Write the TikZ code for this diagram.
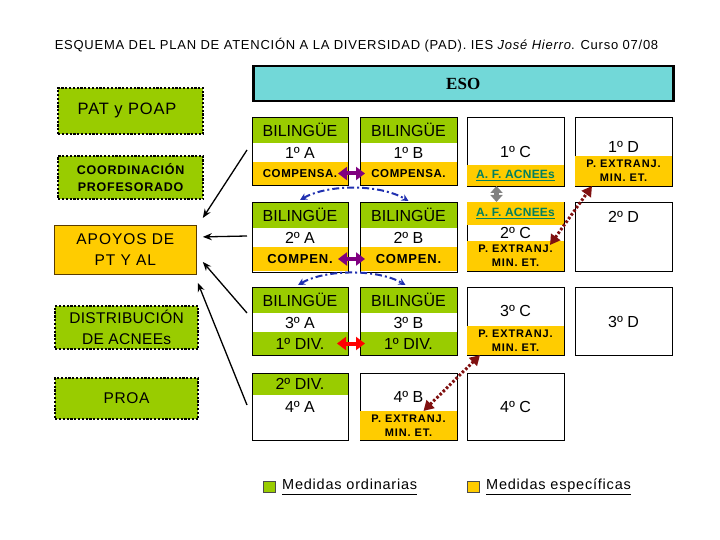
\documentclass[tikz,border=0pt]{standalone}
\usepackage{fontspec}
\setmainfont{Liberation Sans}
\newfontfamily\serifb{Liberation Serif}
\usetikzlibrary{arrows.meta,calc}
\definecolor{ogreen}{RGB}{153,204,0}
\definecolor{oorange}{RGB}{255,204,0}
\definecolor{esocyan}{RGB}{114,216,216}
\definecolor{afgreen}{RGB}{0,128,96}
\definecolor{arcblue}{RGB}{32,48,176}
\definecolor{dred}{RGB}{128,16,16}
\definecolor{purp}{RGB}{128,0,128}
\definecolor{apbord}{RGB}{90,60,0}
\newcommand\fs[2]{\fontsize{#1}{#2}\selectfont}
\newcommand\lsp[1]{\addfontfeatures{LetterSpace=#1}}
\begin{document}
\begin{tikzpicture}[x=1pt,y=-1pt,
  band/.style={inner sep=0pt, outer sep=0pt, anchor=north west, text=black, align=center},
  cellbox/.style={draw=black, line width=0.8pt, inner sep=0pt, outer sep=0pt, anchor=north west},
  sidebox/.style={draw=black, line width=2.2pt, dash pattern=on 2.2pt off 1.6pt, fill=ogreen, anchor=north west, inner sep=0pt, align=center},
  big/.style={font=\fs{16}{19}},
  comp/.style={font=\fs{11.5}{13}\bfseries\lsp{5}},
  compen/.style={font=\fs{13}{15}\bfseries\lsp{6}},
  pext/.style={font=\fs{11}{14}\bfseries\lsp{8}},
  afs/.style={font=\fs{12}{14}\bfseries\lsp{2}},
  side/.style={font=\fs{15.5}{21}\lsp{4}},
  dbl/.style={line width=4pt, {Triangle[length=9pt,width=13pt]}-{Triangle[length=9pt,width=13pt]}},
  arcs/.style={arcblue, line width=2pt, dash pattern=on 7pt off 3pt on 2pt off 3pt, {Stealth[length=7pt,width=7pt]}-{Stealth[length=7pt,width=7pt]}},
  dots/.style={dred, line width=3pt, dash pattern=on 2.5pt off 2pt, {Triangle[length=10pt,width=11pt]}-{Triangle[length=10pt,width=11pt]}},
  ptr/.style={black, line width=1.3pt, -{Stealth[length=9pt,width=7pt]}}
]
\useasboundingbox (0,0) rectangle (720,540);
\fill[white] (0,0) rectangle (720,540);

% title
\node (title) at (356.5,45) {\fs{13}{15}\lsp{5.9}ESQUEMA DEL PLAN DE ATENCIÓN A LA DIVERSIDAD (PAD). IES \textit{José Hierro}. Curso 07/08};

% ESO
\node[draw=black, line width=2.5pt, fill=esocyan, anchor=north west, minimum width=420pt, minimum height=35pt, inner sep=0pt] (eso) at (252,65) {};
\node (esot) at (eso.center) {\serifb\bfseries\fs{17}{19}ESO};

% left boxes
\node[sidebox, minimum width=145pt, minimum height=46pt] (pat) at (57,87) {};
\node[font=\fs{16.5}{19}\lsp{5}] (patt) at (127,110) {PAT y POAP};
\node[sidebox, minimum width=145pt, minimum height=43pt, font=\fs{12.5}{17}\bfseries\lsp{6}] (coord) at (57,155) {COORDINACIÓN\\PROFESORADO};
\node[draw=apbord, line width=0.8pt, fill=oorange, anchor=north west, inner sep=0pt, minimum width=142pt, minimum height=49pt, align=center, side, font=\fs{15.5}{21}\lsp{6}] (apoyos) at (54,225) {APOYOS DE\\PT Y AL};
\node[sidebox, minimum width=143pt, minimum height=43pt, side, font=\fs{15.5}{21}\lsp{2}] (distr) at (54,305) {DISTRIBUCIÓN\\DE ACNEEs};
\node[sidebox, minimum width=143pt, minimum height=41pt, side] (proa) at (54,377) {PROA};

% ---------- Row 1 ----------
\node[band, fill=ogreen, minimum width=96pt, minimum height=26pt, big] (A1g) at (252,117) {BILINGÜE};
\node[band, minimum width=96pt, minimum height=19pt, big] (A1w) at (252,143) {1º A};
\node[band, fill=oorange, minimum width=96pt, minimum height=23pt, comp] (A1o) at (252,162) {COMPENSA.};
\node[cellbox, minimum width=96pt, minimum height=68pt] (A1) at (252,117) {};

\node[band, fill=ogreen, minimum width=97pt, minimum height=26pt, big] (B1g) at (360,117) {BILINGÜE};
\node[band, minimum width=97pt, minimum height=19pt, big] (B1w) at (360,143) {1º B};
\node[band, fill=oorange, minimum width=97pt, minimum height=23pt, comp] (B1o) at (360,162) {COMPENSA.};
\node[cellbox, minimum width=97pt, minimum height=68pt] (B1) at (360,117) {};

\node[cellbox, minimum width=97pt, minimum height=69pt] (C1) at (467,117) {};
\node[big] (C1t) at (515.5,152) {1º C};
\node[band, fill=oorange, minimum width=97pt, minimum height=21pt, afs] (C1o) at (467,165) {\textcolor{afgreen}{\underline{A. F. ACNEEs}}};

\node[cellbox, minimum width=97pt, minimum height=69pt] (D1) at (575,117) {};
\node[big] (D1t) at (623.5,147) {1º D};
\node[band, fill=oorange, minimum width=97pt, minimum height=30pt, pext] (D1o) at (575,156) {P. EXTRANJ.\\MIN. ET.};

% ---------- Row 2 ----------
\node[band, fill=ogreen, minimum width=96pt, minimum height=26pt, big] (A2g) at (252,202) {BILINGÜE};
\node[band, minimum width=96pt, minimum height=19pt, big] (A2w) at (252,228) {2º A};
\node[band, fill=oorange, minimum width=96pt, minimum height=24pt, compen] (A2o) at (252,247) {COMPEN.};
\node[cellbox, minimum width=96pt, minimum height=70pt] (A2) at (252,202) {};

\node[band, fill=ogreen, minimum width=97pt, minimum height=26pt, big] (B2g) at (360,202) {BILINGÜE};
\node[band, minimum width=97pt, minimum height=19pt, big] (B2w) at (360,228) {2º B};
\node[band, fill=oorange, minimum width=97pt, minimum height=24pt, compen] (B2o) at (360,247) {COMPEN.};
\node[cellbox, minimum width=97pt, minimum height=70pt] (B2) at (360,202) {};

\node[cellbox, minimum width=97pt, minimum height=69pt] (C2) at (467,202) {};
\node[band, fill=oorange, minimum width=97pt, minimum height=23pt, afs] (C2a) at (467,202) {\textcolor{afgreen}{\underline{A. F. ACNEEs}}};
\node[big] (C2t) at (515.5,233) {2º C};
\node[band, fill=oorange, minimum width=97pt, minimum height=30pt, pext] (C2o) at (467,241) {P. EXTRANJ.\\MIN. ET.};

\node[cellbox, minimum width=97pt, minimum height=69pt] (D2) at (575,202) {};
\node[big] (D2t) at (623.5,217) {2º D};

% ---------- Row 3 ----------
\node[band, fill=ogreen, minimum width=96pt, minimum height=26pt, big] (A3g) at (252,287) {BILINGÜE};
\node[band, minimum width=96pt, minimum height=19pt, big] (A3w) at (252,313) {3º A};
\node[band, fill=ogreen, minimum width=96pt, minimum height=23pt, big] (A3d) at (252,332) {1º DIV.};
\node[cellbox, minimum width=96pt, minimum height=68pt] (A3) at (252,287) {};

\node[band, fill=ogreen, minimum width=97pt, minimum height=26pt, big] (B3g) at (360,287) {BILINGÜE};
\node[band, minimum width=97pt, minimum height=19pt, big] (B3w) at (360,313) {3º B};
\node[band, fill=ogreen, minimum width=97pt, minimum height=23pt, big] (B3d) at (360,332) {1º DIV.};
\node[cellbox, minimum width=97pt, minimum height=68pt] (B3) at (360,287) {};

\node[cellbox, minimum width=97pt, minimum height=68pt] (C3) at (467,287) {};
\node[big] (C3t) at (515.5,311) {3º C};
\node[band, fill=oorange, minimum width=97pt, minimum height=29pt, pext] (C3o) at (467,326) {P. EXTRANJ.\\MIN. ET.};

\node[cellbox, minimum width=97pt, minimum height=68pt] (D3) at (575,287) {};
\node[big] (D3t) at (623.5,322) {3º D};

% ---------- Row 4 ----------
\node[band, fill=ogreen, minimum width=96pt, minimum height=22pt, big] (A4g) at (252,373) {2º DIV.};
\node[cellbox, minimum width=96pt, minimum height=67pt] (A4) at (252,373) {};
\node[big] (A4t) at (300,407) {4º A};

\node[cellbox, minimum width=97pt, minimum height=67pt] (B4) at (360,373) {};
\node[big] (B4t) at (408.5,397) {4º B};
\node[band, fill=oorange, minimum width=97pt, minimum height=29pt, pext] (B4o) at (360,411) {P. EXTRANJ.\\MIN. ET.};

\node[cellbox, minimum width=97pt, minimum height=67pt] (C4) at (467,373) {};
\node[big] (C4t) at (515.5,407) {4º C};

% ---------- connectors ----------
\coordinate (s1) at (247,150);
\coordinate (s2) at (247,236);
\coordinate (s3) at (247,313);
\coordinate (s4) at (247,405);
\draw[ptr] (s1) -- ($(apoyos.north east)+(6,-7)$);
\draw[ptr] (s2) -- ($(apoyos.east)+(6,-13)$);
\draw[ptr] (s3) -- ($(apoyos.east)+(6,12)$);
\draw[ptr] (s4) -- ($(apoyos.south east)+(1,8)$);

\draw[dbl, purp] ($(A1o.east)+(-10,0)$) -- ($(B1o.west)+(5,0)$);
\draw[dbl, purp] ($(A2o.east)+(-10,0)$) -- ($(B2o.west)+(5,0)$);
\draw[dbl, red] ($(A3d.east)+(-11,0)$) -- ($(B3d.west)+(5,0)$);

\draw[arcs] ($(A2g.north)+(0,-2)$) .. controls (328,184) and (380,184) .. ($(B2g.north)+(0,-1)$);
\draw[arcs] ($(A3g.north)+(-2,-2)$) .. controls (326,269) and (378,269) .. ($(B3g.north)+(-3,-2)$);

\draw[line width=4.5pt, gray, {Triangle[length=7pt,width=12pt]}-{Triangle[length=7pt,width=12pt]}] ($(C1o.south)+(-19,0)$) -- ($(C2a.north)+(-19,0)$);

\draw[dots] ($(C2o.north east)+(-14,4)$) -- ($(D1o.south west)+(17,0)$);
\draw[dots] ($(B4o.north)+(15,0)$) -- ($(C3o.south west)+(13,0)$);

% legend
\node[draw=black!70, line width=0.6pt, fill=ogreen, anchor=north west, minimum width=12pt, minimum height=11pt, inner sep=0pt] (lg) at (263,481) {};
\node[anchor=west, inner sep=0pt, font=\fs{14.5}{16}\lsp{5.4}] (lgt) at (282,487) {\underline{Medidas ordinarias\vphantom{p}}};
\node[draw=black!70, line width=0.6pt, fill=oorange, anchor=north west, minimum width=12pt, minimum height=11pt, inner sep=0pt] (lo) at (467,481) {};
\node[anchor=west, inner sep=0pt, font=\fs{14.5}{16}\lsp{5.4}] (lot) at (486,487) {\underline{Medidas específicas\vphantom{p}}};
\end{tikzpicture}
\end{document}
